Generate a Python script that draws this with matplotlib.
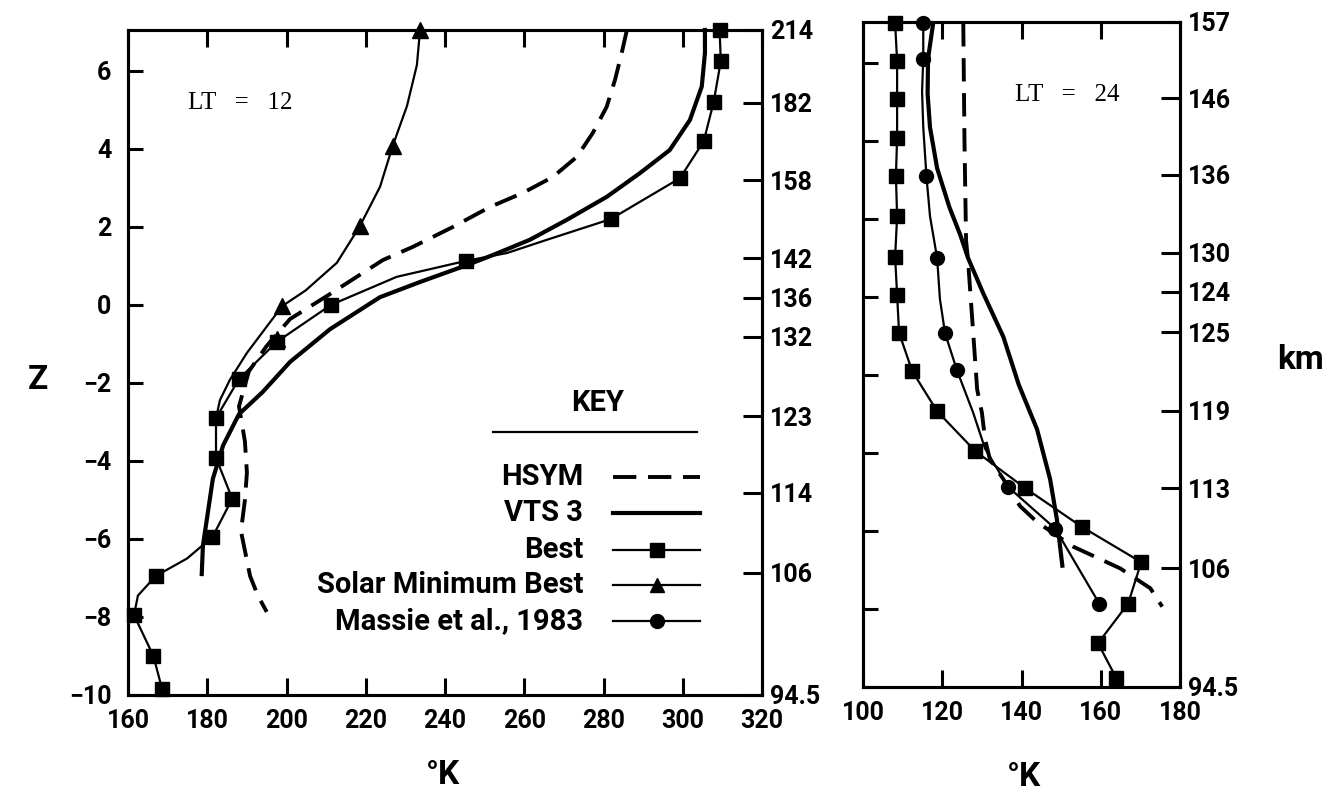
import matplotlib.pyplot as plt
from matplotlib.lines import Line2D

plt.rcParams['font.family'] = ['Roboto', 'DejaVu Sans']
plt.rcParams['font.weight'] = 'bold'

# ---- LT = 12 panel (T in K against Z) ----
best12_T = [309.3, 309.6, 307.8, 305.3, 299.3, 281.8, 265.7, 255.6, 245.3, 227.8, 211.2, 197.5,
            188.0, 182.2, 182.2, 186.3, 181.3, 174.9, 167.0, 162.5, 161.5, 166.4, 168.6]
best12_Z = [7.05, 6.25, 5.2, 4.2, 3.25, 2.2, 1.67, 1.33, 1.13, 0.72, 0.0, -0.95,
            -1.9, -2.9, -3.92, -4.97, -5.95, -6.5, -6.95, -7.45, -7.95, -9.0, -9.85]
best12_marks = [0, 1, 2, 3, 4, 5, 8, 10, 11, 12, 13, 14, 15, 16, 18, 20, 21, 22]

solar12_T = [233.7, 232.9, 230.4, 226.8, 223.6, 218.5, 212.7, 204.8, 198.9, 190.0, 185.7, 183.2, 182.2]
solar12_Z = [7.05, 6.15, 5.1, 4.08, 3.03, 2.02, 1.08, 0.37, -0.03, -1.23, -1.92, -2.44, -2.9]
solar12_mark_T = [233.7, 226.8, 218.5, 198.9, 197.6]
solar12_mark_Z = [7.05, 4.08, 2.02, -0.03, -0.87]

hsym12_T = [285.9, 284.6, 282.9, 280.8, 277.3, 273.3, 267.2, 259.6, 251.3, 242.0, 231.9, 224.3,
            210.2, 200.9, 195.0, 190.5, 188.0, 189.5, 190.0, 189.5, 188.5, 190.8, 192.8, 195.0]
hsym12_Z = [7.05, 6.46, 5.77, 5.08, 4.41, 3.8, 3.28, 2.87, 2.51, 2.0, 1.49, 1.15,
            0.23, -0.36, -1.05, -1.7, -2.6, -3.5, -4.3, -5.0, -5.8, -6.95, -7.46, -7.87]

vts12_T = [305.6, 305.6, 304.8, 301.8, 296.7, 289.2, 280.8, 270.7, 261.4, 252.1, 245.5, 234.0,
           223.6, 211.0, 200.9, 194.0, 188.0, 184.0, 181.4, 179.9, 178.9, 178.6]
vts12_Z = [7.05, 6.46, 5.6, 4.74, 3.97, 3.38, 2.77, 2.18, 1.67, 1.28, 1.02, 0.6,
           0.2, -0.62, -1.46, -2.23, -2.8, -3.6, -4.46, -5.49, -6.17, -6.9]

km12_pos = [7.05, 5.18, 3.2, 1.2, 0.18, -0.82, -2.85, -4.82, -6.87, -10]
km12_lab = ['214', '182', '158', '142', '136', '132', '123', '114', '106', '94.5']

# ---- LT = 24 panel ----
best24_T = [108.1, 108.6, 108.6, 108.6, 108.3, 108.6, 108.1, 108.6, 109.1, 112.4,
            118.7, 128.3, 140.9, 155.3, 170.2, 166.9, 159.3, 163.9]
best24_Z = [7.02, 6.05, 5.07, 4.08, 3.1, 2.07, 1.02, 0.05, -0.92, -1.9,
            -2.93, -3.95, -4.9, -5.9, -6.8, -7.86, -8.88, -9.77]

massie24_T = [115.2, 115.2, 114.9, 115.2, 116.0, 116.9, 118.7, 119.4, 120.7, 123.7, 127.8,
              130.8, 136.6, 148.5, 159.6]
massie24_Z = [7.02, 6.1, 5.27, 4.35, 3.1, 2.07, 1.0, -0.05, -0.93, -1.88, -2.97,
              -3.89, -4.87, -5.94, -7.86]
massie24_marks = [0, 1, 4, 6, 8, 9, 12, 13, 14]

vts24_T = [117.7, 116.4, 116.3, 116.9, 118.7, 121.8, 124.5, 126.5, 130.3, 135.4, 139.3,
           143.9, 147.2, 148.9, 150.3]
vts24_Z = [7.02, 6.1, 5.2, 4.35, 3.3, 2.3, 1.6, 1.0, 0.1, -1.02, -2.25,
           -3.39, -4.67, -5.69, -6.89]

hsym24_T = [125.3, 125.6, 126.0, 126.5, 127.8, 128.8, 130.0, 130.8, 132.0, 135.4,
            139.6, 143.9, 153.0, 164.9, 172.5, 175.5]
hsym24_Z = [7.02, 4.0, 1.45, 0.94, -0.92, -2.37, -2.97, -3.65, -4.16, -4.67,
            -5.36, -5.77, -6.4, -6.96, -7.47, -7.94]

km24_pos = [7.05, 5.1, 3.13, 1.13, 0.13, -0.9, -2.92, -4.9, -6.95, -10]
km24_lab = ['157', '146', '136', '130', '124', '125', '119', '113', '106', '94.5']

key_labels = ['HSYM', 'VTS 3', 'Best', 'Solar Minimum Best', 'Massie et al., 1983']

thin = dict(color='k', lw=1.6, clip_on=False)
dash = dict(color='k', lw=2.8, dashes=(6, 3), clip_on=False)
thick = dict(color='k', lw=3.0, clip_on=False)

fig = plt.figure(figsize=(13.31, 7.99), dpi=100)
ax1 = fig.add_axes([0.0962, 0.1302, 0.4763, 0.8323])
ax2 = fig.add_axes([0.6484, 0.1402, 0.2382, 0.8323])

ax1.plot(hsym12_T, hsym12_Z, **dash)
ax1.plot(vts12_T, vts12_Z, **thick)
ax1.plot(best12_T, best12_Z, marker='s', ms=10, markevery=best12_marks, **thin)
ax1.plot(solar12_T, solar12_Z, **thin)
ax1.plot(solar12_mark_T, solar12_mark_Z, ls='none', marker='^', ms=11, color='k', clip_on=False)

ax2.plot(hsym24_T, hsym24_Z, **dash)
ax2.plot(vts24_T, vts24_Z, **thick)
ax2.plot(best24_T, best24_Z, marker='s', ms=10, **thin)
ax2.plot(massie24_T, massie24_Z, marker='o', ms=10, markevery=massie24_marks, **thin)

for ax in (ax1, ax2):
    ax.set_ylim(-10, 7.05)
    for s in ax.spines.values():
        s.set_linewidth(2.2)
    ax.tick_params(direction='in', width=2.2, labelsize=18, top=True)
    ax.tick_params(axis='x', length=12, pad=10)
    ax.tick_params(axis='y', length=11, pad=12)

ax1.set_xlim(160, 320)
ax1.set_xticks(range(160, 321, 20))
ax1.set_yticks(range(-10, 7, 2))
ax1.set_yticklabels(['\u221210', '\u22128', '\u22126', '\u22124', '\u22122', '0', '2', '4', '6'])

ax2.set_xlim(100, 180)
ax2.set_xticks(range(100, 181, 20))
ax2.set_yticks(range(-10, 7, 2))
ax2.set_yticklabels([])

for ax, pos, lab in ((ax1, km12_pos, km12_lab), (ax2, km24_pos, km24_lab)):
    r = ax.twinx()
    r.set_ylim(ax.get_ylim())
    r.set_yticks(pos)
    r.set_yticklabels(lab)
    r.tick_params(direction='in', length=14, width=2.2, labelsize=18, pad=6)
    for s in r.spines.values():
        s.set_linewidth(2.2)

ax1.text(0.095, 0.89, 'LT   =   12', transform=ax1.transAxes, family='Liberation Serif',
         fontsize=18, weight='normal', va='center')
ax2.text(0.48, 0.89, 'LT   =   24', transform=ax2.transAxes, family='Liberation Serif',
         fontsize=18, weight='normal', va='center')

# key
ax1.text(0.741, 0.418, 'KEY', transform=ax1.transAxes, fontsize=21, ha='center', va='bottom')
ax1.add_line(Line2D([0.576, 0.897], [0.395, 0.395], transform=ax1.transAxes, color='k', lw=1.6))
key_styles = [dict(dash), dict(thick), dict(thin, marker='s', ms=10),
              dict(thin, marker='^', ms=10), dict(thin, marker='o', ms=10)]
key_y = [0.328, 0.274, 0.218, 0.165, 0.111]
for lab, st, yy in zip(key_labels, key_styles, key_y):
    ax1.text(0.718, yy, lab, transform=ax1.transAxes, fontsize=21, ha='right', va='center')
    ax1.add_line(Line2D([0.765, 0.834, 0.902], [yy, yy, yy], transform=ax1.transAxes,
                        markevery=[1], **st))

fig.text(0.0285, 0.524, 'Z', fontsize=24, ha='center', va='center')
fig.text(0.977, 0.549, 'km', fontsize=24, ha='center', va='center')
fig.text(0.333, 0.03, '\u00b0K', fontsize=24, ha='center', va='center')
fig.text(0.769, 0.027, '\u00b0K', fontsize=24, ha='center', va='center')

fig.savefig('out.png', dpi=100)
